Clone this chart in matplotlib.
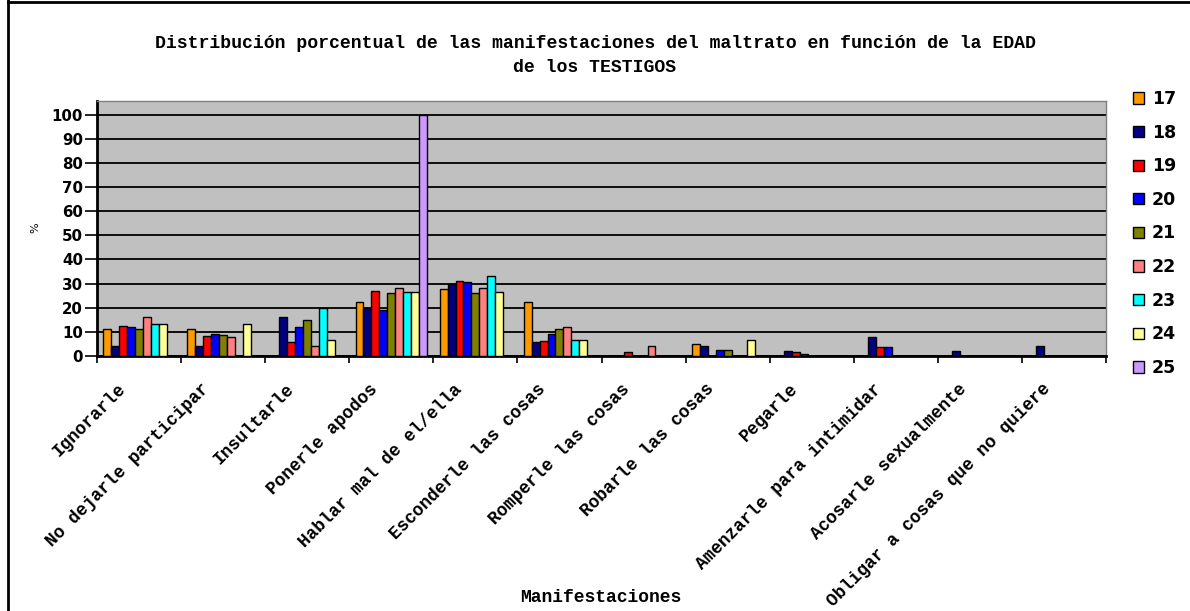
import matplotlib
matplotlib.use("Agg")
import matplotlib.pyplot as plt
import numpy as np
from matplotlib.transforms import ScaledTranslation
from matplotlib.lines import Line2D

categories = ["Ignorarle", "No dejarle participar", "Insultarle", "Ponerle apodos",
              "Hablar mal de el/ella", "Esconderle las cosas", "Romperle las cosas",
              "Robarle las cosas", "Pegarle", "Amenzarle para intimidar",
              "Acosarle sexualmente", "Obligar a cosas que no quiere"]
ages = ["17", "18", "19", "20", "21", "22", "23", "24", "25"]

v17 = [11.1, 11.1, 0, 22.2, 27.8, 22.2, 0, 5.0, 0, 0, 0, 0]
v18 = [4.0, 4.0, 16.0, 20.0, 30.0, 6.0, 0, 4.0, 2.0, 8.0, 2.0, 4.0]
v19 = [12.6, 8.4, 5.9, 27.1, 31.2, 6.1, 1.8, 0, 1.8, 3.9, 0, 0]
v20 = [11.9, 9.2, 11.9, 19.2, 30.6, 9.3, 0, 2.4, 0.8, 3.9, 0, 0]
v21 = [11.1, 8.5, 14.8, 25.9, 25.9, 11.1, 0, 2.4, 0, 0, 0, 0]
v22 = [16.0, 8.0, 4.0, 28.0, 28.0, 12.0, 4.0, 0, 0, 0, 0, 0]
v23 = [13.3, 0, 20.0, 26.7, 33.3, 6.7, 0, 0, 0, 0, 0, 0]
v24 = [13.3, 13.3, 6.7, 26.7, 26.7, 6.7, 0, 6.7, 0, 0, 0, 0]
v25 = [0, 0, 0, 100, 0, 0, 0, 0, 0, 0, 0, 0]
series = [v17, v18, v19, v20, v21, v22, v23, v24, v25]
colors = ["#FF9900", "#000080", "#FF0000", "#0000FF", "#808000",
          "#FF8080", "#00FFFF", "#FFFF99", "#CC99FF"]

mono = "Liberation Mono"

fig = plt.figure(figsize=(11.9, 6.11), dpi=100)
W, H = 1190, 611
ax = fig.add_axes([97 / W, 1 - 356 / H, (1106 - 97) / W, (356 - 101) / H])
ax.set_facecolor("#C0C0C0")

n = len(series)
group = 0.85
bw = group / n
x = np.arange(len(categories))
for i, (vals, c, lab) in enumerate(zip(series, colors, ages)):
    pos = x - group / 2 + bw * (i + 0.5)
    vals = np.array(vals, dtype=float)
    mask = vals > 0
    ax.bar(pos[mask], vals[mask], width=bw, color=c, edgecolor="black",
           linewidth=1.0, zorder=3, label=lab)

ax.set_xlim(-0.5, len(categories) - 0.5)
ax.set_ylim(0, 105.6)
ax.set_yticks(np.arange(0, 101, 10))
ax.yaxis.grid(True, color="black", linewidth=1.3, zorder=1)
ax.set_axisbelow(True)

for lbl in ax.get_yticklabels():
    lbl.set_fontfamily("DejaVu Sans")
    lbl.set_fontweight("bold")
ax.tick_params(axis="y", direction="out", length=9, width=1.2, pad=1, labelsize=10.8)

ax.set_xticks(x)
ax.set_xticks(np.arange(-0.5, len(categories), 1), minor=True)
ax.tick_params(axis="x", which="major", length=0, pad=22)
ax.tick_params(axis="x", which="minor", length=5, width=1.2, direction="out")
ax.set_xticklabels(categories, rotation=45, ha="right", va="center",
                   rotation_mode="anchor", fontfamily=mono, fontweight="bold",
                   fontsize=12.7)
off = ScaledTranslation(-16 / 100, 0, fig.dpi_scale_trans)
for lbl in ax.get_xticklabels():
    lbl.set_transform(lbl.get_transform() + off)

for s in ["left", "bottom"]:
    ax.spines[s].set_color("black")
    ax.spines[s].set_linewidth(2)
for s in ["top", "right"]:
    ax.spines[s].set_color("#808080")
    ax.spines[s].set_linewidth(1)

fig.text(0.5, 1 - 43 / H, "Distribución porcentual de las manifestaciones del maltrato en función de la EDAD",
         ha="center", va="center", fontfamily=mono, fontweight="bold", fontsize=13.1)
fig.text(0.5, 1 - 67 / H, "de los TESTIGOS",
         ha="center", va="center", fontfamily=mono, fontweight="bold", fontsize=13.1)
fig.text(601 / W, 1 - 598 / H, "Manifestaciones", ha="center", va="center",
         fontfamily=mono, fontweight="bold", fontsize=13)
fig.text(35 / W, 1 - 228 / H, "%", ha="center", va="center", rotation=90,
         fontfamily="DejaVu Sans", fontsize=8)

leg = fig.legend(loc="upper left", bbox_to_anchor=(1133 / W, 1 - 90 / H),
                 frameon=False, prop={"family": "DejaVu Sans", "weight": "bold", "size": 12.5},
                 handlelength=0.62, handleheight=0.62, handletextpad=0.45,
                 labelspacing=0.9, borderpad=0, borderaxespad=0)

fig.add_artist(Line2D([8 / W, 8 / W], [0, 1], transform=fig.transFigure,
                      color="black", linewidth=2))
fig.add_artist(Line2D([8 / W, 1], [1 - 1.5 / H, 1 - 1.5 / H], transform=fig.transFigure,
                      color="black", linewidth=2))

fig.savefig("out.png", dpi=100, facecolor="white")
